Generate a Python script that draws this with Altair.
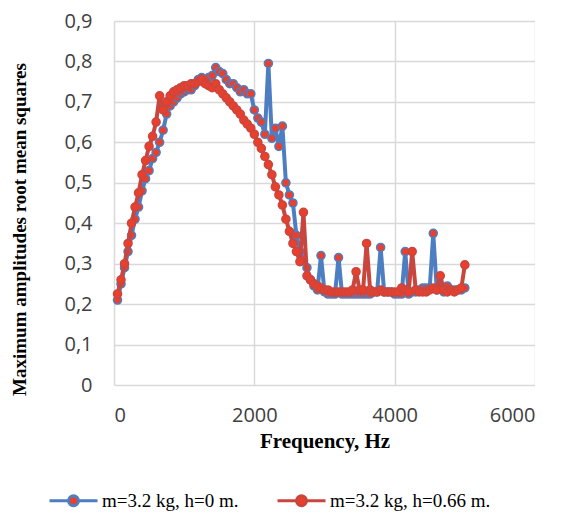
import altair as alt
import pandas as pd

freq = [50, 100, 150, 200, 250, 300, 350, 400, 450, 500,
        550, 600, 650, 700, 750, 800, 850, 900, 950, 1000,
        1050, 1100, 1150, 1200, 1250, 1300, 1350, 1400, 1450, 1500,
        1550, 1600, 1650, 1700, 1750, 1800, 1850, 1900, 1950, 2000,
        2050, 2100, 2150, 2200, 2250, 2300, 2350, 2400, 2450, 2500,
        2550, 2600, 2650, 2700, 2750, 2800, 2850, 2900, 2950, 3000,
        3050, 3100, 3150, 3200, 3250, 3300, 3350, 3400, 3450, 3500,
        3550, 3600, 3650, 3700, 3750, 3800, 3850, 3900, 3950, 4000,
        4050, 4100, 4150, 4200, 4250, 4300, 4350, 4400, 4450, 4500,
        4550, 4600, 4650, 4700, 4750, 4800, 4850, 4900, 4950, 5000]

blue = [0.21, 0.25, 0.29, 0.33, 0.37, 0.41, 0.44, 0.48, 0.51, 0.53,
        0.56, 0.575, 0.60, 0.63, 0.67, 0.69, 0.70, 0.71, 0.72, 0.725,
        0.73, 0.73, 0.74, 0.755, 0.76, 0.755, 0.76, 0.765, 0.785, 0.775,
        0.77, 0.755, 0.745, 0.745, 0.735, 0.725, 0.73, 0.72, 0.72, 0.68,
        0.66, 0.65, 0.62, 0.795, 0.61, 0.635, 0.59, 0.64, 0.50, 0.47,
        0.45, 0.37, 0.33, 0.31, 0.29, 0.26, 0.245, 0.235, 0.32, 0.23,
        0.225, 0.225, 0.225, 0.315, 0.225, 0.225, 0.225, 0.225, 0.225, 0.225,
        0.225, 0.225, 0.225, 0.23, 0.23, 0.34, 0.23, 0.23, 0.23, 0.225,
        0.225, 0.225, 0.33, 0.225, 0.23, 0.23, 0.235, 0.24, 0.24, 0.24,
        0.375, 0.235, 0.24, 0.23, 0.245, 0.235, 0.235, 0.235, 0.235, 0.24]

red = [0.225, 0.26, 0.30, 0.35, 0.40, 0.44, 0.475, 0.52, 0.555, 0.59,
       0.615, 0.65, 0.715, 0.68, 0.70, 0.715, 0.725, 0.73, 0.735, 0.74,
       0.74, 0.745, 0.745, 0.75, 0.755, 0.745, 0.74, 0.735, 0.745, 0.73,
       0.72, 0.71, 0.70, 0.69, 0.68, 0.67, 0.655, 0.645, 0.635, 0.62,
       0.60, 0.585, 0.565, 0.545, 0.52, 0.49, 0.47, 0.445, 0.41, 0.38,
       0.35, 0.33, 0.305, 0.427, 0.27, 0.26, 0.25, 0.245, 0.24, 0.235,
       0.235, 0.23, 0.23, 0.23, 0.23, 0.23, 0.23, 0.235, 0.28, 0.235,
       0.235, 0.35, 0.235, 0.23, 0.23, 0.235, 0.23, 0.23, 0.23, 0.23,
       0.23, 0.24, 0.235, 0.23, 0.33, 0.235, 0.23, 0.23, 0.23, 0.235,
       0.24, 0.235, 0.27, 0.235, 0.23, 0.235, 0.23, 0.235, 0.24, 0.297]

series_names = ["m=3.2 kg, h=0 m.", "m=3.2 kg, h=0.66 m."]
series_colors = ["#4E7EC2", "#C9463F"]
marker_fill = "#E8402C"

x_ticks = [0, 2000, 4000, 6000]
y_ticks = [0, 0.1, 0.2, 0.3, 0.4, 0.5, 0.6, 0.7, 0.8, 0.9]

df = pd.concat([
    pd.DataFrame({"freq": freq, "val": blue, "series": series_names[0]}),
    pd.DataFrame({"freq": freq, "val": red, "series": series_names[1]}),
])

color_scale = alt.Scale(domain=series_names, range=series_colors)

x_enc = alt.X("freq:Q", scale=alt.Scale(domain=[0, 6000]),
              axis=alt.Axis(values=x_ticks, format="d", title="Frequency, Hz",
                            titleFontSize=21, labelPadding=20, titlePadding=5))
y_enc = alt.Y("val:Q", scale=alt.Scale(domain=[0, 0.9]),
              axis=alt.Axis(values=y_ticks,
                            labelExpr="replace(format(datum.value, '.1~f'), '.', ',')",
                            title="Maximum amplitudes root mean squares",
                            titleFontSize=19, labelPadding=22, titlePadding=34,
                            titleY=208))

legend_path = ("M-4.8,0 L-1,0 M1,0 L4.8,0 "
               "M1,0 A1,1 0 1,1 -1,0 A1,1 0 1,1 1,0 Z")

layers = []
for i, name in enumerate(series_names):
    base = alt.Chart(df).transform_filter(alt.datum.series == name)
    line = base.mark_line(strokeWidth=4, strokeJoin="round").encode(
        x=x_enc, y=y_enc,
        color=alt.Color("series:N", scale=color_scale, sort=series_names,
                        legend=alt.Legend(title=None, orient="none",
                                          legendX=-50, legendY=470,
                                          direction="horizontal",
                                          symbolType=legend_path,
                                          symbolSize=100,
                                          symbolStrokeWidth=3,
                                          symbolFillColor=marker_fill,
                                          labelOffset=19,
                                          labelLimit=0,
                                          columnPadding=32)),
    )
    pts = base.mark_point(shape="circle", filled=True, fill=marker_fill,
                          fillOpacity=1, size=65, strokeWidth=1.5, opacity=1).encode(
        x="freq:Q", y="val:Q",
        stroke=alt.Stroke("series:N", scale=color_scale, legend=None),
    )
    layers += [line, pts]

chart = alt.layer(*layers).properties(
    width=421, height=364, padding={"left": 2, "top": 3, "right": 0, "bottom": 0}
).configure_view(stroke=None).configure_axis(
    grid=True, gridColor="#D9D9D9", gridWidth=1.5,
    domain=False, ticks=False,
    labelFont="Open Sans", labelFontSize=20, labelColor="#404040",
    titleFont="Liberation Serif", titleFontWeight="bold",
    titleColor="#000000",
).configure_legend(
    labelFont="Liberation Serif", labelFontSize=19, labelColor="#000000",
)

chart.save("out.html", embed_options={"renderer": "svg", "actions": False})
